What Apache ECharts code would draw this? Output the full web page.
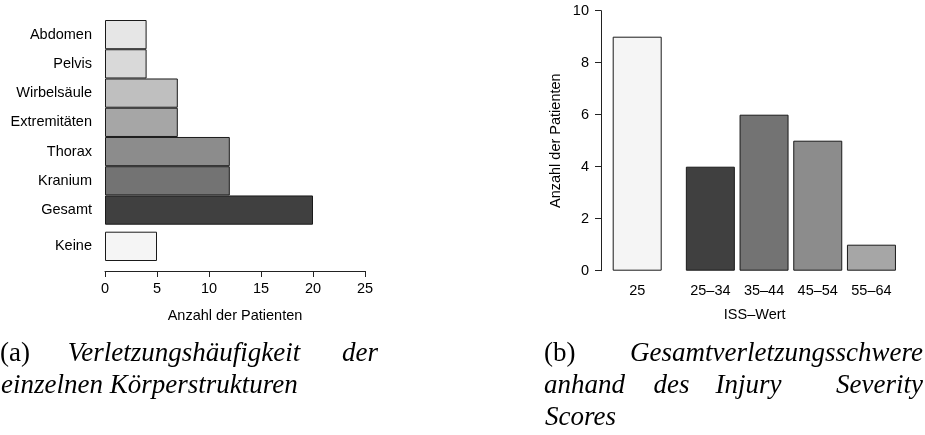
<!DOCTYPE html>
<html>
<head>
<meta charset="utf-8">
<script src="https://cdn.jsdelivr.net/npm/echarts@6/dist/echarts.min.js"></script>
<style>
html,body{margin:0;padding:0;background:#fff;}
#chart{width:925px;height:435px;}
</style>
</head>
<body>
<div id="chart"></div>
<script>
// ---- data ----
const bodyCategories = ['Abdomen', 'Pelvis', 'Wirbelsäule', 'Extremitäten', 'Thorax', 'Kranium', 'Gesamt'];
const bodyValues = [4, 4, 7, 7, 12, 12, 20];
const noneCategories = ['Keine'];
const noneValues = [5];
const patientAxisMin = 0, patientAxisMax = 25, patientAxisStep = 5;

const issSingleCategories = ['25'];
const issSingleValues = [9];
const issCategories = ['25–34', '35–44', '45–54', '55–64'];
const issValues = [4, 6, 5, 1];
const issAxisMin = 0, issAxisMax = 10, issAxisStep = 2;

const leftAxisTitle = 'Anzahl der Patienten';
const rightAxisTitle = 'Anzahl der Patienten';
const issAxisTitle = 'ISS–Wert';

// ---- styles ----
const bodyColors = ['#e6e6e6', '#d9d9d9', '#bfbfbf', '#a6a6a6', '#8c8c8c', '#737373', '#404040'];
const noneColors = ['#f5f5f5'];
const issSingleColors = ['#f5f5f5'];
const issColors = ['#404040', '#737373', '#8c8c8c', '#a6a6a6'];

const SANS = 'Liberation Sans';
const SERIF = 'Liberation Serif';
const FS = 14.5;
const border = '#1a1a1a';

function colored(vals, cols) {
  return vals.map((v, i) => ({ value: v, itemStyle: { color: cols[i] } }));
}

const chart = echarts.init(document.getElementById('chart'), null, { renderer: 'canvas' });

const axisLineStyle = { color: '#222', width: 1 };
const baseLabel = { color: '#000', fontFamily: SANS, fontSize: FS };

// caption words
function capText(text, x, baseline, align, italic) {
  return {
    type: 'text',
    x: x, y: baseline - 9,
    style: {
      text: text,
      fontFamily: SERIF,
      fontStyle: italic ? 'italic' : 'normal',
      fontSize: 27,
      fill: '#000',
      align: align,
      verticalAlign: 'middle'
    }
  };
}

const option = {
  animation: false,
  backgroundColor: '#fff',
  grid: [
    { left: 105, width: 260, top: 20, height: 204.7, outerBoundsMode: 'none' },
    { left: 105, width: 260, top: 231.7, height: 29.3, outerBoundsMode: 'none' },
    { left: 601, width: 72.4, top: 10.7, height: 260, outerBoundsMode: 'none' },
    { left: 683.5, width: 214.8, top: 10.7, height: 260, outerBoundsMode: 'none' }
  ],
  xAxis: [
    { gridIndex: 0, type: 'value', min: patientAxisMin, max: patientAxisMax, interval: patientAxisStep, show: false },
    {
      gridIndex: 1, type: 'value', min: patientAxisMin, max: patientAxisMax, interval: patientAxisStep,
      offset: 10,
      axisLine: { show: true, lineStyle: axisLineStyle },
      axisTick: { show: true, length: 6, lineStyle: axisLineStyle },
      axisLabel: Object.assign({ margin: 10 }, baseLabel),
      splitLine: { show: false },
      name: leftAxisTitle, nameLocation: 'middle', nameGap: 37,
      nameTextStyle: { color: '#000', fontFamily: SANS, fontSize: FS }
    },
    {
      gridIndex: 2, type: 'category', data: issSingleCategories,
      axisLine: { show: false }, axisTick: { show: false },
      axisLabel: Object.assign({ margin: 13 }, baseLabel)
    },
    {
      gridIndex: 3, type: 'category', data: issCategories,
      axisLine: { show: false }, axisTick: { show: false },
      axisLabel: Object.assign({ margin: 13 }, baseLabel)
    }
  ],
  yAxis: [
    {
      gridIndex: 0, type: 'category', data: bodyCategories, inverse: true,
      axisLine: { show: false }, axisTick: { show: false },
      axisLabel: Object.assign({ margin: 13 }, baseLabel)
    },
    {
      gridIndex: 1, type: 'category', data: noneCategories,
      axisLine: { show: false }, axisTick: { show: false },
      axisLabel: Object.assign({ margin: 13 }, baseLabel)
    },
    {
      gridIndex: 2, type: 'value', min: issAxisMin, max: issAxisMax, interval: issAxisStep,
      axisLine: { show: true, lineStyle: axisLineStyle },
      axisTick: { show: true, length: 6, lineStyle: axisLineStyle },
      axisLabel: Object.assign({ margin: 12 }, baseLabel),
      splitLine: { show: false },
      name: rightAxisTitle, nameLocation: 'middle', nameGap: 38,
      nameTextStyle: { color: '#000', fontFamily: SANS, fontSize: FS }
    },
    {
      gridIndex: 3, type: 'value', min: issAxisMin, max: issAxisMax, interval: issAxisStep, show: false
    }
  ],
  series: [
    {
      type: 'bar', xAxisIndex: 0, yAxisIndex: 0, barCategoryGap: '0%',
      data: colored(bodyValues, bodyColors),
      itemStyle: { borderColor: border, borderWidth: 1 }
    },
    {
      type: 'bar', xAxisIndex: 1, yAxisIndex: 1, barCategoryGap: '0%',
      data: colored(noneValues, noneColors),
      itemStyle: { borderColor: border, borderWidth: 1 }
    },
    {
      type: 'bar', xAxisIndex: 2, yAxisIndex: 2, barWidth: 49,
      data: colored(issSingleValues, issSingleColors),
      itemStyle: { borderColor: border, borderWidth: 1 }
    },
    {
      type: 'bar', xAxisIndex: 3, yAxisIndex: 3, barWidth: 49,
      data: colored(issValues, issColors),
      itemStyle: { borderColor: border, borderWidth: 1 }
    }
  ],
  graphic: [
    {
      type: 'text', x: 754.7, y: 315,
      style: { text: issAxisTitle, fontFamily: SANS, fontSize: FS, fill: '#000', align: 'center', verticalAlign: 'middle' }
    },
    capText('(a)', 0, 363, 'left', false),
    capText('Verletzungshäufigkeit', 184, 363, 'center', true),
    capText('der', 378, 363, 'right', true),
    capText('einzelnen Körperstrukturen', 1, 395, 'left', true),
    capText('(b)', 544, 363, 'left', false),
    capText('Gesamtverletzungsschwere', 923, 363, 'right', true),
    capText('anhand', 544, 395, 'left', true),
    capText('des', 671.5, 395, 'center', true),
    capText('Injury', 748.5, 395, 'center', true),
    capText('Severity', 923, 395, 'right', true),
    capText('Scores', 545, 427, 'left', true)
  ]
};

chart.setOption(option);
</script>
</body>
</html>
